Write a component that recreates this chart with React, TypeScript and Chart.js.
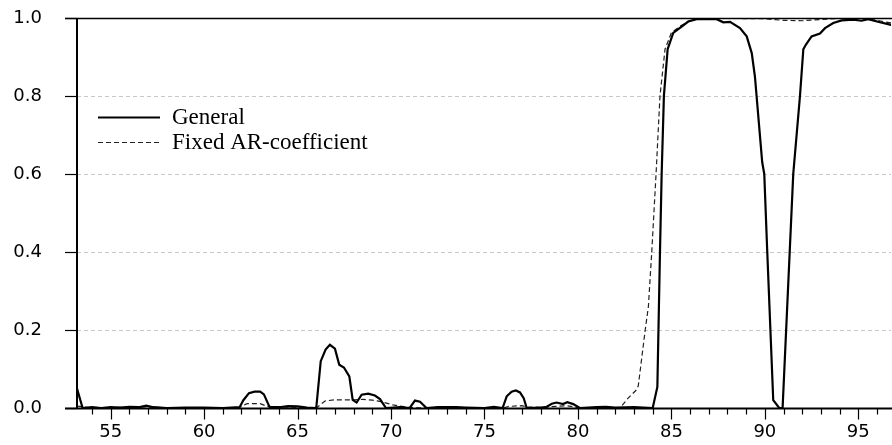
import { useEffect, useRef } from "react";
import { Chart, registerables } from "chart.js";

Chart.register(...registerables);

// ---------- data ----------
const generalX = [
  53.2, 53.5, 54.0, 54.5, 55.0, 55.5, 56.0, 56.5, 56.9, 57.3, 58.0, 59.0, 60.0, 61.0,
  61.9, 62.1, 62.4, 62.7, 63.0, 63.2, 63.5, 64.0, 64.5, 65.0, 65.5, 66.0,
  66.24, 66.5, 66.73, 67.0, 67.23, 67.48, 67.77, 67.95, 68.16, 68.43, 68.78, 69.14, 69.41, 69.73,
  70.5, 71.0, 71.28, 71.55, 71.9, 72.5, 73.5, 74.0, 75.0, 75.5, 75.97,
  76.19, 76.45, 76.68, 76.9, 77.1, 77.26, 78.0, 78.29, 78.6, 78.86, 79.2, 79.43, 79.75, 80.1,
  81.0, 81.5, 82.0, 83.0, 84.0, 84.25, 84.39, 84.48, 84.6, 84.8, 85.1, 85.55, 85.9, 86.35,
  87.0, 87.42, 87.78, 88.14, 88.67, 89.03, 89.3, 89.47, 89.86, 89.97, 90.13, 90.45, 90.77,
  90.95, 91.52, 91.88, 92.06, 92.2, 92.5, 92.95, 93.22, 93.66, 94.11, 94.73, 95.18, 95.53,
  96.16, 96.7, 97.0,
];
const generalY = [
  0.05, 0.0, 0.002, 0.0, 0.002, 0.001, 0.003, 0.002, 0.006, 0.002, 0.0, 0.001, 0.001, 0.0,
  0.002, 0.02, 0.038, 0.042, 0.042, 0.035, 0.003, 0.002, 0.005, 0.004, 0.001, 0.0,
  0.12, 0.15, 0.162, 0.152, 0.111, 0.104, 0.081, 0.021, 0.014, 0.034, 0.037, 0.032, 0.023, 0.0,
  0.002, 0.0, 0.019, 0.016, 0.0, 0.002, 0.002, 0.001, 0.0, 0.003, 0.0,
  0.03, 0.042, 0.045, 0.04, 0.025, 0.0, 0.001, 0.002, 0.011, 0.014, 0.01, 0.015, 0.01, 0.0,
  0.002, 0.003, 0.001, 0.002, 0.0, 0.054, 0.4, 0.6, 0.8, 0.92, 0.962, 0.978, 0.991, 0.997,
  0.998, 0.997, 0.989, 0.99, 0.974, 0.953, 0.91, 0.85, 0.63, 0.6, 0.4, 0.02, 0.0,
  0.0, 0.6, 0.8, 0.92, 0.932, 0.953, 0.96, 0.974, 0.987, 0.994, 0.996, 0.993, 0.997,
  0.989, 0.983, 0.978,
];

const fixedX = [
  53.2, 54.0, 56.9, 58.0, 61.8, 62.3, 63.0, 63.4, 64.0, 65.0, 66.0,
  66.47, 67.0, 68.0, 68.5, 69.0, 69.41, 70.1, 70.5, 71.0, 72.0, 76.0, 76.3, 77.0, 77.3,
  78.5, 79.4, 80.0, 81.0, 82.25, 82.7, 83.14, 83.23, 83.6, 83.77, 83.95, 84.18, 84.39, 84.66,
  85.0, 85.5, 86.0, 86.5, 88.0, 90.0, 91.0, 92.0, 93.0, 94.0, 95.0, 96.0, 97.0,
];
const fixedY = [
  0.005, 0.0, 0.003, 0.0, 0.0, 0.011, 0.011, 0.004, 0.003, 0.002, 0.0,
  0.018, 0.021, 0.021, 0.022, 0.02, 0.017, 0.008, 0.005, 0.001, 0.0, 0.0, 0.004, 0.006, 0.002,
  0.003, 0.006, 0.001, 0.0, 0.0, 0.026, 0.047, 0.057, 0.2, 0.26, 0.4, 0.6, 0.8, 0.92,
  0.962, 0.98, 0.993, 0.998, 0.999, 0.998, 0.994, 0.993, 0.996, 0.999, 0.999, 0.994, 0.985,
];

const seriesLabels = ["General", "Fixed AR-coefficient"];
const yTickValues = [0, 0.2, 0.4, 0.6, 0.8, 1.0];
const xTickValues = [55, 60, 65, 70, 75, 80, 85, 90, 95];
const xMin = 53.2;
const xMax = 96.75;

const toPoints = (xs: number[], ys: number[]) => xs.map((x, i) => ({ x, y: ys[i] }));

// ---------- plugins ----------
const framePlugin = {
  id: "frame",
  beforeDatasetsDraw(chart: any) {
    const { ctx, chartArea: ca, scales } = chart;
    const y = scales.y;
    ctx.save();
    ctx.strokeStyle = "#c8c8c8";
    ctx.lineWidth = 1;
    ctx.setLineDash([4, 3]);
    for (const v of yTickValues) {
      if (v <= 0 || v >= 1) continue;
      const py = Math.round(y.getPixelForValue(v)) + 0.5;
      ctx.beginPath();
      ctx.moveTo(ca.left, py);
      ctx.lineTo(ca.right, py);
      ctx.stroke();
    }
    ctx.restore();
  },
  afterDatasetsDraw(chart: any) {
    const { ctx, chartArea: ca, scales } = chart;
    const x = scales.x;
    const y = scales.y;
    ctx.save();
    ctx.strokeStyle = "#000";
    ctx.setLineDash([]);
    // left ticks
    ctx.lineWidth = 1.2;
    for (const v of yTickValues) {
      const py = Math.round(y.getPixelForValue(v)) + 0.5;
      ctx.beginPath();
      ctx.moveTo(ca.left - 12, py);
      ctx.lineTo(ca.left, py);
      ctx.stroke();
    }
    // top line
    ctx.lineWidth = 1.5;
    const top = Math.round(y.getPixelForValue(1.0)) + 0.5;
    ctx.beginPath();
    ctx.moveTo(ca.left - 12, top);
    ctx.lineTo(ca.right + 2, top);
    ctx.stroke();
    // left line
    ctx.lineWidth = 2;
    ctx.beginPath();
    ctx.moveTo(ca.left, ca.top);
    ctx.lineTo(ca.left, ca.bottom);
    ctx.stroke();
    // bottom line
    const bottom = Math.round(y.getPixelForValue(0)) + 0.5;
    ctx.lineWidth = 2;
    ctx.beginPath();
    ctx.moveTo(ca.left - 12, bottom);
    ctx.lineTo(ca.right + 2, bottom);
    ctx.stroke();
    // bottom ticks (major every 5, minor every 1)
    ctx.lineWidth = 1.2;
    for (let v = Math.ceil(xMin); v <= Math.floor(xMax); v++) {
      const px = Math.round(x.getPixelForValue(v)) + 0.5;
      const len = v % 5 === 0 ? 11 : 6;
      ctx.beginPath();
      ctx.moveTo(px, bottom);
      ctx.lineTo(px, bottom + len);
      ctx.stroke();
    }
    ctx.restore();
  },
};

const legendPlugin = {
  id: "insideLegend",
  afterDatasetsDraw(chart: any) {
    const { ctx } = chart;
    const rows = [117, 142];
    ctx.save();
    chart.data.datasets.forEach((ds: any, i: number) => {
      const yy = rows[i] + 0.5;
      ctx.strokeStyle = ds.borderColor;
      ctx.lineWidth = ds.borderWidth;
      ctx.setLineDash(ds.borderDash || []);
      ctx.beginPath();
      ctx.moveTo(98, yy);
      ctx.lineTo(160, yy);
      ctx.stroke();
      ctx.setLineDash([]);
      ctx.fillStyle = "#000";
      ctx.font = '23px "Liberation Serif", "Times New Roman", serif';
      ctx.textBaseline = "middle";
      ctx.textAlign = "left";
      ctx.fillText(ds.label, 172, rows[i] + 1);
    });
    ctx.restore();
  },
};

export default function App() {
  const canvasRef = useRef<HTMLCanvasElement | null>(null);

  useEffect(() => {
    const canvas = canvasRef.current;
    if (!canvas) return;
    const tickFont = { family: '"DejaVu Sans", sans-serif', size: 18 };
    const chart = new Chart(canvas, {
      type: "line",
      data: {
        datasets: [
          {
            label: seriesLabels[0],
            data: toPoints(generalX, generalY),
            borderColor: "#000",
            borderWidth: 2.2,
            pointRadius: 0,
            tension: 0,
            fill: false,
          },
          {
            label: seriesLabels[1],
            data: toPoints(fixedX, fixedY),
            borderColor: "#222",
            borderWidth: 1.2,
            borderDash: [5, 3],
            pointRadius: 0,
            tension: 0,
            fill: false,
          },
        ],
      },
      options: {
        animation: false,
        responsive: false,
        devicePixelRatio: 1,
        layout: { padding: { top: 18, right: 1, left: 0, bottom: 0 } },
        plugins: {
          legend: { display: false },
          tooltip: { enabled: false },
        },
        scales: {
          x: {
            type: "linear",
            min: xMin,
            max: xMax,
            grid: { display: false, drawTicks: true, tickLength: 14 },
            border: { display: false },
            afterBuildTicks: (scale: any) => {
              scale.ticks = xTickValues.map((v) => ({ value: v }));
            },
            afterFit: (scale: any) => {
              scale.height = 37;
            },
            ticks: {
              font: tickFont,
              color: "#000",
              padding: 0,
              maxRotation: 0,
              autoSkip: false,
              callback: (v: any) => String(v),
            },
          },
          y: {
            type: "linear",
            min: 0,
            max: 1,
            grid: { display: false, drawTicks: true, tickLength: 35 },
            border: { display: false },
            afterBuildTicks: (scale: any) => {
              scale.ticks = yTickValues.map((v) => ({ value: v }));
            },
            afterFit: (scale: any) => {
              scale.width = 77;
            },
            ticks: {
              font: tickFont,
              color: "#000",
              padding: 0,
              callback: (v: any) => Number(v).toFixed(1),
            },
          },
        },
      },
      plugins: [framePlugin, legendPlugin],
    });
    return () => chart.destroy();
  }, []);

  return (
    <div style={{ position: "fixed", left: 0, top: 0, width: 892, height: 445, background: "#fff" }}>
      <canvas ref={canvasRef} width={892} height={445} style={{ display: "block" }} />
    </div>
  );
}
